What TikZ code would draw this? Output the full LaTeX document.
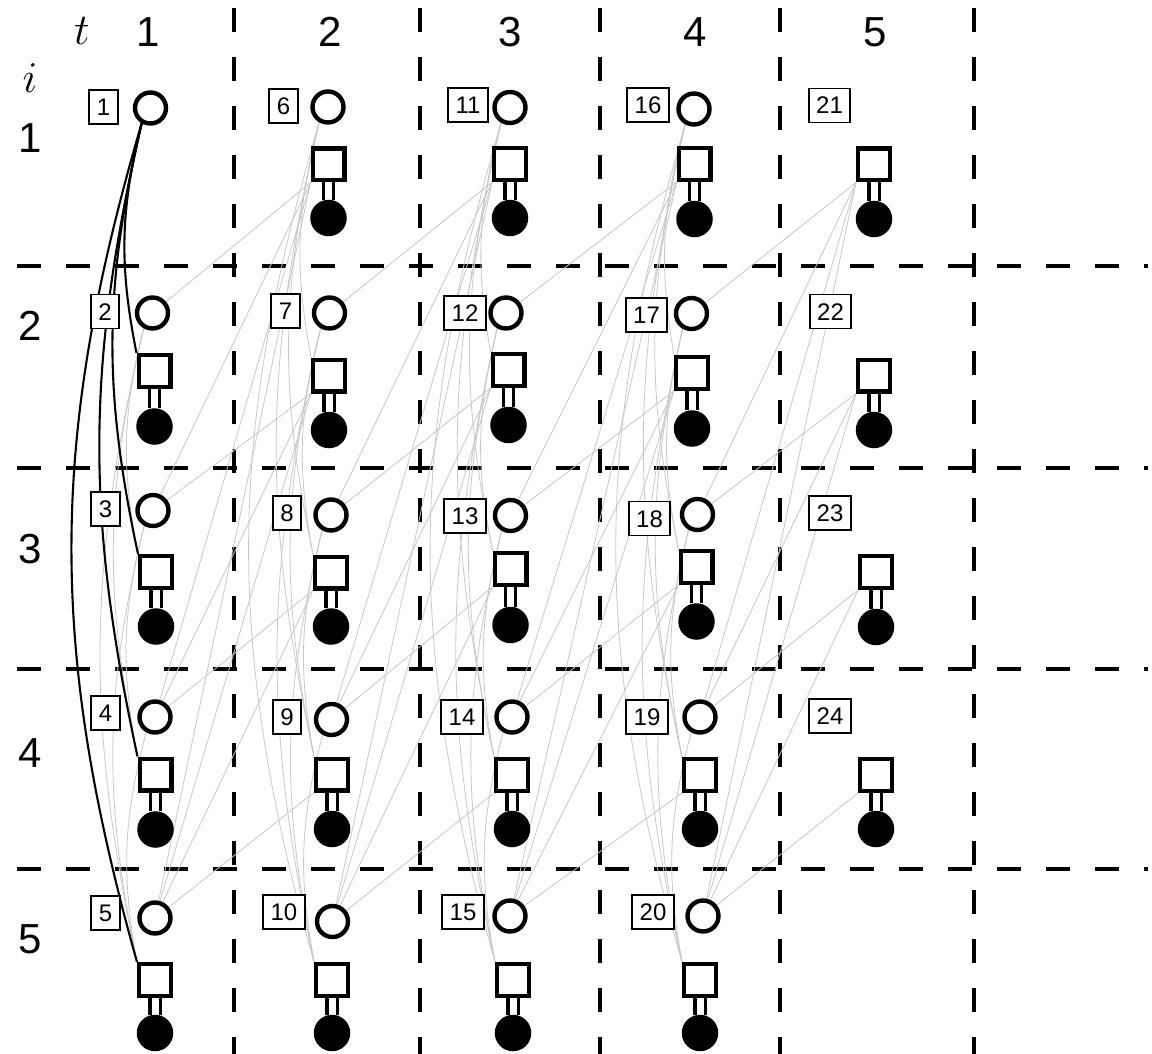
\RequirePackage{fix-cm}
\documentclass[tikz,border=0pt]{standalone}
\usepackage{fontspec}
\setmainfont{Liberation Sans}
\pgfdeclarelayer{background}
\pgfsetlayers{background,main}
\tikzset{
  numbox/.style={draw, line width=1.9pt, fill=white, inner xsep=7.5pt, inner ysep=0pt,
     minimum height=34pt, text height=17pt, text depth=0pt, font=\fontsize{24}{24}\selectfont},
  hollow/.style={circle, draw, line width=4.4pt, fill=white, minimum size=31pt, inner sep=0pt},
  sqnode/.style={rectangle, draw, line width=4.4pt, fill=white, minimum size=31.6pt, inner sep=0pt},
  dotnode/.style={circle, fill=black, minimum size=36.5pt, inner sep=0pt},
  conn/.style={double=white, double distance=7pt, line width=3.4pt},
  gedge/.style={draw=black!22, line width=0.8pt},
  bedge/.style={draw=black, line width=2.1pt},
  gridline/.style={line width=4.2pt, dash pattern=on 24pt off 25pt},
  hdr/.style={anchor=base, font=\fontsize{42}{42}\selectfont, inner sep=0pt},
  mhdr/.style={anchor=base, font=\fontsize{44}{44}\selectfont, inner sep=0pt},
}
\begin{document}
\begin{tikzpicture}[x=1pt,y=-1pt]
\useasboundingbox (0,0) rectangle (1152,1054);
% headers
\node[mhdr] (tlab) at (82,45) {$t$};
\node[mhdr] (ilab) at (30,93) {$i$};
\foreach \k/\x in {1/148,2/330,3/510,4/695,5/875}
  \node[hdr] (col\k) at (\x,47) {\k};
\foreach \k/\y in {1/153,2/340,3/563,4/767,5/953}
  \node[hdr] (row\k) at (30,\y) {\k};
% number boxes
\foreach \n/\x/\y in {1/103.5/107, 2/105/311.5, 3/105.5/509, 4/105.5/713, 5/105.5/913,
  6/283.5/106, 7/285.5/311, 8/287/513, 9/287/717, 10/284/912,
  11/468/105, 12/465/313, 13/465/516, 14/462/717, 15/463/912,
  16/648/105, 17/646.5/315, 18/649.5/518.5, 19/647/717, 20/653/912,
  21/829.5/105.5, 22/830.5/311.5, 23/830/513, 24/830/716}
  \node[numbox] (b\n) at (\x,\y) {\n};
% hollow circles
\foreach \n/\x/\y in {1/150.5/108, 2/152.5/313, 3/153/510.5, 4/155/717, 5/155/918,
  6/328/107, 7/329.5/313, 8/331/515, 9/331.5/719.5, 10/332.5/921.5,
  11/510/107.5, 12/506/313, 13/510.5/515.5, 14/512/717, 15/510/916,
  16/694/109, 17/691.5/313.5, 18/697.5/514.5, 19/700/717, 20/703/916}
  \node[hollow] (c\n) at (\x,\y) {};
% squares and filled circles
\foreach \n/\x/\y/\fy in {2/154.5/371/426.5, 3/156/572/626.5, 4/155.5/774.5/829.5, 5/155/980/1033,
  6/328.5/164.5/218, 7/329/375.5/430, 8/331/572.5/626.5, 9/332/774.5/829, 10/332/980/1033,
  11/510/164/218, 12/508.5/370/425, 13/510.5/569/625, 14/512/775/829, 15/513/980/1033,
  16/694.5/164/219, 17/692/373/428.5, 18/696.5/567/621.5, 19/700/775/829, 20/700/980/1033,
  21/874/164.5/219, 22/874/375.5/430, 23/876/572/627, 24/876/775/829}
  {\node[sqnode] (s\n) at (\x,\y) {};
   \node[dotnode] (f\n) at (\x,\fy) {};}
\begin{pgfonlayer}{background}
  \foreach \x [count=\j] in {234,420,600,780,974}
    {\coordinate (vt\j) at (\x,8); \coordinate (vb\j) at (\x,1054);
     \draw[gridline] (vt\j) -- (vb\j);}
  \foreach \y [count=\j] in {266,468,669,869}
    {\coordinate (hl\j) at (17,\y); \coordinate (hr\j) at (1148,\y);
     \draw[gridline] (hl\j) -- (hr\j);}
  \foreach \n in {2,...,20}{
    \foreach \d in {1,...,4}{
      \pgfmathtruncatemacro\m{\n+\d}
      \pgfmathtruncatemacro\cn{div(\n-1,5)}
      \pgfmathtruncatemacro\cm{div(\m-1,5)}
      \ifnum\m<25
        \ifnum\cn=\cm
          \pgfmathsetmacro\bnd{\d==4 ? 16 : 12.5}
          \draw[gedge] (c\n.240) to[bend right=\bnd] (s\m.north west);
        \else
          \draw[gedge] (c\n) -- (s\m.south west);
        \fi
      \fi
    }
  }
  \foreach \m/\bnd in {2/12.5,3/12.5,4/12.5,5/16}
    \draw[bedge] (c1.240) to[bend right=\bnd] (s\m.north west);
  \foreach \n in {2,...,24}
    \draw[conn] (s\n.south) -- (f\n.north);
\end{pgfonlayer}
\end{tikzpicture}
\end{document}
